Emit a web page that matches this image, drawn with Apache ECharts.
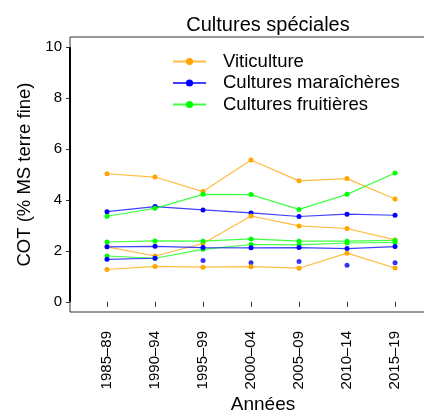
<!DOCTYPE html>
<html>
<head>
<meta charset="utf-8">
<script src="https://cdn.jsdelivr.net/npm/echarts@6/dist/echarts.min.js"></script>
<style>
  html, body { margin: 0; padding: 0; background: #fff; }
  #chart { width: 424px; height: 415px; }
</style>
</head>
<body>
<div id="chart"></div>
<script>
const periods = ['1985–89', '1990–94', '1995–99', '2000–04', '2005–09', '2010–14', '2015–19'];
const yTicks = [0, 2, 4, 6, 8, 10];

// Viticulture
const vitiHigh = [5.03, 4.90, 4.33, 5.57, 4.75, 4.84, 4.04];
const vitiMid = [2.16, 1.80, 2.29, 3.37, 2.98, 2.88, 2.43];
const vitiLow = [1.27, 1.39, 1.36, 1.38, 1.32, 1.91, 1.33];
// Cultures maraîchères
const maraHigh = [3.54, 3.74, 3.61, 3.49, 3.35, 3.44, 3.40];
const maraMid = [2.16, 2.18, 2.13, 2.12, 2.13, 2.09, 2.17];
const maraLow = [1.67, 1.71, null, null, null, null, null];
const maraLowPts = [null, null, 1.62, 1.53, 1.58, 1.44, 1.53];
// Cultures fruitières
const fruitHigh = [3.36, 3.67, 4.22, 4.21, 3.63, 4.22, 5.06];
const fruitMid = [2.35, 2.39, 2.38, 2.47, 2.38, 2.38, 2.41];
const fruitLow = [1.80, 1.71, 2.06, 2.25, 2.24, 2.31, 2.33];

const VITI = 'Viticulture';
const MARA = 'Cultures maraîchères';
const FRUIT = 'Cultures fruitières';
const colors = { [VITI]: '#FFA500', [MARA]: '#0000FF', [FRUIT]: '#00FF00' };

const FONT = 'Liberation Sans, Arial, sans-serif';
const pos = periods.map((p, i) => i + 1);

function toData(arr) {
  return arr.map((v, i) => [pos[i], v]);
}

function lineSeries(name, arr) {
  return {
    name: name,
    type: 'line',
    data: toData(arr),
    connectNulls: false,
    symbol: 'circle',
    symbolSize: 5,
    itemStyle: { color: colors[name] },
    lineStyle: { color: colors[name], width: 1.2, opacity: 0.75 },
    emphasis: { disabled: true },
    animation: false,
    z: 3,
  };
}

function pointSeries(name, arr) {
  return {
    name: name,
    type: 'scatter',
    data: toData(arr).filter(d => d[1] != null),
    symbol: 'circle',
    symbolSize: 5,
    itemStyle: { color: colors[name] },
    emphasis: { disabled: true },
    animation: false,
    z: 3,
  };
}

const chart = echarts.init(document.getElementById('chart'), null, { renderer: 'canvas' });

const option = {
  backgroundColor: '#fff',
  animation: false,
  textStyle: { fontFamily: FONT },
  title: [
    {
      text: 'Cultures spéciales',
      left: 263,
      top: 10,
      textAlign: 'center',
      textStyle: { fontFamily: FONT, fontSize: 20, fontWeight: 'normal', color: '#000' },
    },
    {
      text: 'Années',
      left: 258,
      top: 390,
      textAlign: 'center',
      textStyle: { fontFamily: FONT, fontSize: 19, fontWeight: 'normal', color: '#000' },
    },
  ],
  legend: {
    data: [VITI, MARA, FRUIT],
    orient: 'vertical',
    left: 172,
    top: 52,
    padding: 0,
    itemWidth: 33,
    itemHeight: 9,
    itemGap: 2.5,
    textStyle: { fontFamily: FONT, fontSize: 18.5, color: '#000', padding: [0, 0, 0, 12] },
    selectedMode: false,
  },
  grid: {
    left: 70,
    width: 386,
    top: 37,
    height: 275,
    show: true,
    borderColor: '#333',
    borderWidth: 1,
    containLabel: false,
    outerBoundsMode: 'none',
  },
  xAxis: {
    type: 'value',
    min: 0.229,
    max: 8.27,
    splitLine: { show: false },
    axisLine: { show: false },
    axisTick: {
      show: true,
      customValues: pos,
      length: 5,
      lineStyle: { color: '#333', width: 1 },
    },
    axisLabel: {
      customValues: pos,
      rotate: 90,
      margin: 19,
      fontSize: 15,
      color: '#000',
      fontFamily: FONT,
      formatter: v => periods[Math.round(v) - 1] || '',
    },
  },
  yAxis: {
    type: 'value',
    min: -0.4,
    max: 10.4,
    splitLine: { show: false },
    axisLine: { show: false },
    axisTick: {
      show: true,
      customValues: yTicks,
      length: 4,
      lineStyle: { color: '#333', width: 1 },
    },
    axisLabel: {
      customValues: yTicks,
      margin: 8,
      fontSize: 15,
      color: '#000',
      fontFamily: FONT,
    },
    name: 'COT (% MS terre fine)',
    nameLocation: 'middle',
    nameRotate: 90,
    nameGap: 36,
    nameTextStyle: { fontFamily: FONT, fontSize: 18.5, color: '#000' },
  },
  series: [
    lineSeries(VITI, vitiHigh),
    lineSeries(MARA, maraHigh),
    lineSeries(FRUIT, fruitHigh),
    lineSeries(VITI, vitiMid),
    lineSeries(FRUIT, fruitMid),
    lineSeries(FRUIT, fruitLow),
    lineSeries(MARA, maraMid),
    lineSeries(MARA, maraLow),
    pointSeries(MARA, maraLowPts),
    lineSeries(VITI, vitiLow),
  ],
};

chart.setOption(option);

// thick y axis line from 0 to the top tick, as in the original plot
const p0 = chart.convertToPixel({ gridIndex: 0 }, [0.229, yTicks[0]]);
const p1 = chart.convertToPixel({ gridIndex: 0 }, [0.229, yTicks[yTicks.length - 1]]);
chart.setOption({
  graphic: [{
    type: 'line',
    shape: { x1: p0[0], y1: p0[1], x2: p1[0], y2: p1[1] },
    style: { stroke: '#000', lineWidth: 2 },
    z: 10,
  }],
});
</script>
</body>
</html>
